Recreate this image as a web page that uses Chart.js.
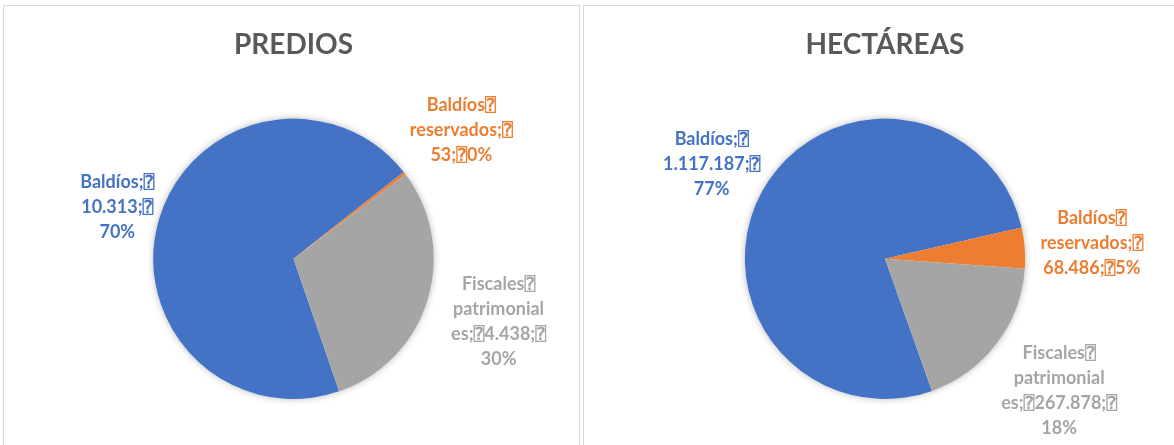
<!DOCTYPE html>
<html>
<head>
<meta charset="utf-8">
<script src="https://cdn.jsdelivr.net/npm/chart.js@4/dist/chart.umd.min.js"></script>
<style>
  html, body { margin: 0; padding: 0; background: #fff; overflow: hidden; width: 1174px; height: 445px; }
  .panel { position: absolute; top: 5px; height: 460px; border: 1px solid #d9d9d9; background: #fff; }
  #p1 { left: 3px; width: 575px; }
  #p2 { left: 583px; width: 606px; }
  .panel canvas { position: absolute; left: 0; top: 0; }
</style>
</head>
<body>
<div class="panel" id="p1"><canvas id="predios" width="575" height="439"></canvas></div>
<div class="panel" id="p2"><canvas id="hectareas" width="606" height="439"></canvas></div>
<script>
const categories = ["Baldíos", "Baldíos reservados", "Fiscales patrimoniales"];
const predios = [10313, 53, 4438];
const hectareas = [1117187, 68486, 267878];
const colors = ["#4472C4", "#ED7D31", "#A5A5A5"];

// Excel-style wrapped data labels ({v} = value, {p} = percent)
const labelLines = [
  ["Baldíos;⍰", "{v};⍰", "{p}%"],
  ["Baldíos⍰", "reservados;⍰", "{v};⍰{p}%"],
  ["Fiscales⍰", "patrimonial", "es;⍰{v};⍰", "{p}%"],
];

const fontFamily = "Lato, 'DejaVu Sans Mono', 'DejaVu Sans', sans-serif";

function fmt(n) {
  return String(n).replace(/\B(?=(\d{3})+(?!\d))/g, ".");
}

const pieShadow = {
  id: "pieShadow",
  beforeDatasetsDraw(chart) {
    const arc = chart.getDatasetMeta(0).data[0];
    if (!arc) return;
    const ctx = chart.ctx;
    ctx.save();
    ctx.shadowColor = "rgba(0,0,0,0.28)";
    ctx.shadowBlur = 7;
    ctx.fillStyle = "#fff";
    ctx.beginPath();
    ctx.arc(arc.x, arc.y, arc.outerRadius, 0, Math.PI * 2);
    ctx.fill();
    ctx.restore();
  },
};

const outsideLabels = {
  id: "outsideLabels",
  afterDatasetsDraw(chart, args, opts) {
    const ds = chart.data.datasets[0];
    const total = ds.data.reduce((a, b) => a + b, 0);
    const ctx = chart.ctx;
    ctx.save();
    ctx.font = "bold 18px " + fontFamily;
    ctx.textAlign = "center";
    ctx.textBaseline = "middle";
    chart.getDatasetMeta(0).data.forEach((arc, i) => {
      const v = ds.data[i];
      const p = Math.round((v / total) * 100);
      const lines = labelLines[i].map(s => s.replace("{v}", fmt(v)).replace("{p}", p));
      const mid = (arc.startAngle + arc.endAngle) / 2;
      const d = arc.outerRadius * opts.dist[i];
      const cx = arc.x + Math.cos(mid) * d;
      const cy = arc.y + Math.sin(mid) * d;
      ctx.fillStyle = colors[i];
      lines.forEach((ln, j) => {
        ctx.fillText(ln, cx, cy + (j - (lines.length - 1) / 2) * 25);
      });
    });
    ctx.restore();
  },
};

function makePie(id, title, values, rotation, dist, pad) {
  new Chart(document.getElementById(id), {
    type: "pie",
    data: {
      labels: categories,
      datasets: [{
        data: values,
        backgroundColor: colors,
        borderWidth: 0,
      }],
    },
    options: {
      responsive: false,
      animation: false,
      rotation: rotation,
      layout: { padding: pad },
      plugins: {
        legend: { display: false },
        tooltip: { enabled: false },
        title: {
          display: true,
          text: title,
          color: "#595959",
          font: { family: fontFamily, size: 28, weight: "bold" },
          padding: { top: 22, bottom: 57 },
        },
        outsideLabels: { dist: dist },
      },
    },
    plugins: [pieShadow, outsideLabels],
  });
}

makePie("predios", "PREDIOS", predios, 161, [1.31, 1.51, 1.53], { left: 4, right: 0, top: 0, bottom: 46 });
makePie("hectareas", "HECTÁREAS", hectareas, 160.4, [1.41, 1.48, 1.56], { left: 0, right: 4, top: 0, bottom: 46 });
</script>
</body>
</html>
